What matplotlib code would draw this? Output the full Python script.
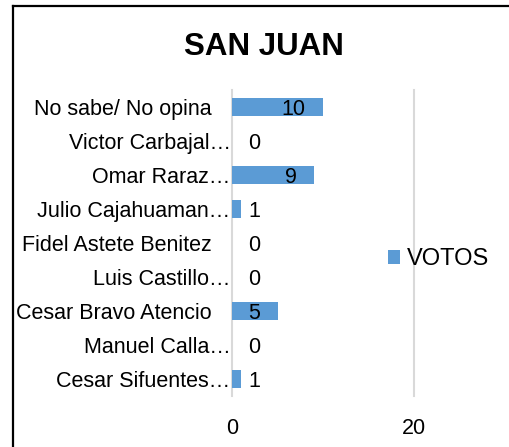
import matplotlib
matplotlib.use("Agg")
import matplotlib.pyplot as plt
from matplotlib.lines import Line2D
from matplotlib.transforms import ScaledTranslation

# Data (top to bottom as shown)
categories = [
    "No sabe/ No opina",
    "Victor Carbajal…",
    "Omar Raraz…",
    "Julio Cajahuaman…",
    "Fidel Astete Benitez",
    "Luis Castillo…",
    "Cesar Bravo Atencio",
    "Manuel Calla…",
    "Cesar Sifuentes…",
]
votos = [10, 0, 9, 1, 0, 0, 5, 0, 1]
series_name = "VOTOS"
title = "SAN JUAN"
x_ticks = [0, 20]

plt.rcParams['font.family'] = ['Liberation Sans', 'DejaVu Sans']
W, H = 509, 447
fig = plt.figure(figsize=(W / 100, H / 100), dpi=100)
fig.patch.set_facecolor('white')

ax = fig.add_axes([232 / W, 1 - 396 / H, (414 - 232) / W, (396 - 90) / H])
n = len(categories)
ypos = list(range(n))
bars = ax.barh(ypos, votos, height=0.53, color='#5B9BD5', label=series_name, zorder=3)
ax.set_ylim(n - 0.5, -0.5)
ax.set_xlim(0, 20)
ax.set_xticks(x_ticks)
ax.set_xticklabels([str(t) for t in x_ticks], fontsize=15.5)
ax.set_yticks(ypos)
ax.set_yticklabels(categories, fontsize=15.5)
ax.tick_params(axis='both', length=0, colors='black')
ax.tick_params(axis='x', pad=16)
ax.tick_params(axis='y', pad=1)
for s in ax.spines.values():
    s.set_visible(False)
ax.grid(axis='x', color='#d9d9d9', linewidth=1.5, zorder=0)
ax.grid(axis='y', visible=False)
for gl in ax.get_xgridlines():
    gl.set_clip_on(False)

# full-name labels sit further from the axis than truncated ones
for lbl in ax.get_yticklabels():
    if not lbl.get_text().endswith("…"):
        lbl.set_transform(lbl.get_transform() + ScaledTranslation(-19 / 100, 0, fig.dpi_scale_trans))

# data labels
for y, v in zip(ypos, votos):
    if v >= 4:
        ax.text(v - 1.9, y, str(v), ha='right', va='center_baseline', fontsize=15.5, color='black', zorder=4)
    else:
        ax.text(1.75, y, str(v), ha='left', va='center_baseline', fontsize=15.5, color='black', zorder=4)

fig.text(264 / W, 1 - 47 / H, title, ha='center', va='center', fontsize=22.5, fontweight='bold')

fig.legend(handles=[bars], labels=[series_name], loc='center left',
           bbox_to_anchor=(388 / W, 1 - 259 / H), frameon=False, fontsize=17,
           handlelength=0.52, handleheight=0.52, handletextpad=0.28,
           borderpad=0, borderaxespad=0)

# outer chart border (left and top visible)
fig.add_artist(Line2D([13 / W, 13 / W], [-0.1, 1 - 6 / H], transform=fig.transFigure,
                      color='black', linewidth=1.6, solid_capstyle='projecting'))
fig.add_artist(Line2D([13 / W, 1.1], [1 - 6 / H, 1 - 6 / H], transform=fig.transFigure,
                      color='black', linewidth=1.6, solid_capstyle='projecting'))

fig.savefig("out.png", dpi=100, facecolor='white')
